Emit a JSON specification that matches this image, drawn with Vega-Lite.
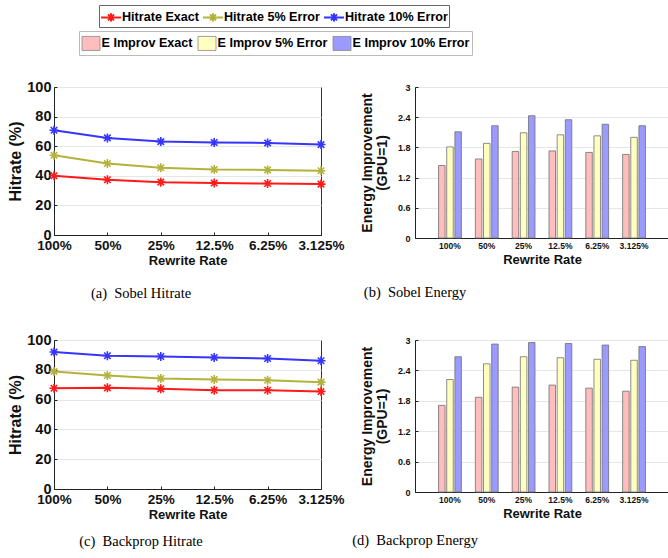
{
  "$schema": "https://vega.github.io/schema/vega-lite/v6.json",
  "background": "white",
  "padding": {"left": 7, "top": 4, "right": 0, "bottom": 2},
  "bounds": "flush",
  "columns": 2,
  "spacing": {"row": 102, "column": 94},
  "datasets": {
    "hit": [
      {"bench": "Sobel", "series": "Hitrate Exact", "rate": "100%", "hitrate": 40.0},
      {"bench": "Sobel", "series": "Hitrate Exact", "rate": "50%", "hitrate": 37.3},
      {"bench": "Sobel", "series": "Hitrate Exact", "rate": "25%", "hitrate": 35.7},
      {"bench": "Sobel", "series": "Hitrate Exact", "rate": "12.5%", "hitrate": 35.1},
      {"bench": "Sobel", "series": "Hitrate Exact", "rate": "6.25%", "hitrate": 34.8},
      {"bench": "Sobel", "series": "Hitrate Exact", "rate": "3.125%", "hitrate": 34.4},
      {"bench": "Sobel", "series": "Hitrate 5% Error", "rate": "100%", "hitrate": 53.9},
      {"bench": "Sobel", "series": "Hitrate 5% Error", "rate": "50%", "hitrate": 48.3},
      {"bench": "Sobel", "series": "Hitrate 5% Error", "rate": "25%", "hitrate": 45.4},
      {"bench": "Sobel", "series": "Hitrate 5% Error", "rate": "12.5%", "hitrate": 44.3},
      {"bench": "Sobel", "series": "Hitrate 5% Error", "rate": "6.25%", "hitrate": 44.0},
      {"bench": "Sobel", "series": "Hitrate 5% Error", "rate": "3.125%", "hitrate": 43.4},
      {"bench": "Sobel", "series": "Hitrate 10% Error", "rate": "100%", "hitrate": 70.8},
      {"bench": "Sobel", "series": "Hitrate 10% Error", "rate": "50%", "hitrate": 65.6},
      {"bench": "Sobel", "series": "Hitrate 10% Error", "rate": "25%", "hitrate": 63.1},
      {"bench": "Sobel", "series": "Hitrate 10% Error", "rate": "12.5%", "hitrate": 62.5},
      {"bench": "Sobel", "series": "Hitrate 10% Error", "rate": "6.25%", "hitrate": 62.2},
      {"bench": "Sobel", "series": "Hitrate 10% Error", "rate": "3.125%", "hitrate": 61.1},
      {"bench": "Backprop", "series": "Hitrate Exact", "rate": "100%", "hitrate": 67.6},
      {"bench": "Backprop", "series": "Hitrate Exact", "rate": "50%", "hitrate": 67.9},
      {"bench": "Backprop", "series": "Hitrate Exact", "rate": "25%", "hitrate": 67.2},
      {"bench": "Backprop", "series": "Hitrate Exact", "rate": "12.5%", "hitrate": 66.3},
      {"bench": "Backprop", "series": "Hitrate Exact", "rate": "6.25%", "hitrate": 66.3},
      {"bench": "Backprop", "series": "Hitrate Exact", "rate": "3.125%", "hitrate": 65.4},
      {"bench": "Backprop", "series": "Hitrate 5% Error", "rate": "100%", "hitrate": 78.9},
      {"bench": "Backprop", "series": "Hitrate 5% Error", "rate": "50%", "hitrate": 76.2},
      {"bench": "Backprop", "series": "Hitrate 5% Error", "rate": "25%", "hitrate": 74.2},
      {"bench": "Backprop", "series": "Hitrate 5% Error", "rate": "12.5%", "hitrate": 73.5},
      {"bench": "Backprop", "series": "Hitrate 5% Error", "rate": "6.25%", "hitrate": 73.0},
      {"bench": "Backprop", "series": "Hitrate 5% Error", "rate": "3.125%", "hitrate": 71.7},
      {"bench": "Backprop", "series": "Hitrate 10% Error", "rate": "100%", "hitrate": 91.9},
      {"bench": "Backprop", "series": "Hitrate 10% Error", "rate": "50%", "hitrate": 89.4},
      {"bench": "Backprop", "series": "Hitrate 10% Error", "rate": "25%", "hitrate": 88.9},
      {"bench": "Backprop", "series": "Hitrate 10% Error", "rate": "12.5%", "hitrate": 88.3},
      {"bench": "Backprop", "series": "Hitrate 10% Error", "rate": "6.25%", "hitrate": 87.6},
      {"bench": "Backprop", "series": "Hitrate 10% Error", "rate": "3.125%", "hitrate": 86.1}
    ],
    "energy": [
      {"bench": "Sobel", "method": "E Improv Exact", "rate": "100%", "improvement": 1.44},
      {"bench": "Sobel", "method": "E Improv Exact", "rate": "50%", "improvement": 1.57},
      {"bench": "Sobel", "method": "E Improv Exact", "rate": "25%", "improvement": 1.72},
      {"bench": "Sobel", "method": "E Improv Exact", "rate": "12.5%", "improvement": 1.73},
      {"bench": "Sobel", "method": "E Improv Exact", "rate": "6.25%", "improvement": 1.70},
      {"bench": "Sobel", "method": "E Improv Exact", "rate": "3.125%", "improvement": 1.66},
      {"bench": "Sobel", "method": "E Improv 5% Error", "rate": "100%", "improvement": 1.81},
      {"bench": "Sobel", "method": "E Improv 5% Error", "rate": "50%", "improvement": 1.88},
      {"bench": "Sobel", "method": "E Improv 5% Error", "rate": "25%", "improvement": 2.09},
      {"bench": "Sobel", "method": "E Improv 5% Error", "rate": "12.5%", "improvement": 2.05},
      {"bench": "Sobel", "method": "E Improv 5% Error", "rate": "6.25%", "improvement": 2.03},
      {"bench": "Sobel", "method": "E Improv 5% Error", "rate": "3.125%", "improvement": 2.00},
      {"bench": "Sobel", "method": "E Improv 10% Error", "rate": "100%", "improvement": 2.11},
      {"bench": "Sobel", "method": "E Improv 10% Error", "rate": "50%", "improvement": 2.23},
      {"bench": "Sobel", "method": "E Improv 10% Error", "rate": "25%", "improvement": 2.43},
      {"bench": "Sobel", "method": "E Improv 10% Error", "rate": "12.5%", "improvement": 2.35},
      {"bench": "Sobel", "method": "E Improv 10% Error", "rate": "6.25%", "improvement": 2.26},
      {"bench": "Sobel", "method": "E Improv 10% Error", "rate": "3.125%", "improvement": 2.23},
      {"bench": "Backprop", "method": "E Improv Exact", "rate": "100%", "improvement": 1.71},
      {"bench": "Backprop", "method": "E Improv Exact", "rate": "50%", "improvement": 1.87},
      {"bench": "Backprop", "method": "E Improv Exact", "rate": "25%", "improvement": 2.07},
      {"bench": "Backprop", "method": "E Improv Exact", "rate": "12.5%", "improvement": 2.11},
      {"bench": "Backprop", "method": "E Improv Exact", "rate": "6.25%", "improvement": 2.05},
      {"bench": "Backprop", "method": "E Improv Exact", "rate": "3.125%", "improvement": 1.99},
      {"bench": "Backprop", "method": "E Improv 5% Error", "rate": "100%", "improvement": 2.22},
      {"bench": "Backprop", "method": "E Improv 5% Error", "rate": "50%", "improvement": 2.53},
      {"bench": "Backprop", "method": "E Improv 5% Error", "rate": "25%", "improvement": 2.67},
      {"bench": "Backprop", "method": "E Improv 5% Error", "rate": "12.5%", "improvement": 2.65},
      {"bench": "Backprop", "method": "E Improv 5% Error", "rate": "6.25%", "improvement": 2.62},
      {"bench": "Backprop", "method": "E Improv 5% Error", "rate": "3.125%", "improvement": 2.60},
      {"bench": "Backprop", "method": "E Improv 10% Error", "rate": "100%", "improvement": 2.67},
      {"bench": "Backprop", "method": "E Improv 10% Error", "rate": "50%", "improvement": 2.92},
      {"bench": "Backprop", "method": "E Improv 10% Error", "rate": "25%", "improvement": 2.95},
      {"bench": "Backprop", "method": "E Improv 10% Error", "rate": "12.5%", "improvement": 2.93},
      {"bench": "Backprop", "method": "E Improv 10% Error", "rate": "6.25%", "improvement": 2.90},
      {"bench": "Backprop", "method": "E Improv 10% Error", "rate": "3.125%", "improvement": 2.87}
    ]
  },
  "config": {
    "font": "Liberation Sans",
    "view": {"stroke": "#333", "strokeWidth": 1},
    "axis": {
      "domainColor": "#222", "domainWidth": 1, "tickColor": "#222", "tickSize": -3,
      "labelColor": "#111", "titleColor": "#111",
      "labelFont": "Liberation Sans", "titleFont": "Liberation Sans",
      "labelFontWeight": "bold", "titleFontWeight": "bold",
      "gridColor": "#e6e6e6", "gridWidth": 1
    },
    "axisX": {"grid": false},
    "axisY": {"grid": true},
    "title": {"font": "Liberation Serif", "fontSize": 14.5, "fontWeight": "normal", "color": "#000", "orient": "bottom", "anchor": "middle"}
  },
  "concat": [
    {
      "width": 267, "height": 148,
      "data": {"name": "hit"},
      "transform": [{"filter": "datum.bench == 'Sobel'"}],
      "title": {"text": "(a)\u00a0 Sobel Hitrate", "dx": -46.5, "offset": 19},
      "encoding": {
        "x": {"field": "rate", "type": "ordinal",
          "scale": {"type": "point", "padding": 0, "domain": ["100%", "50%", "25%", "12.5%", "6.25%", "3.125%"]},
          "axis": {"title": "Rewrite Rate", "labelAngle": 0, "labelFontSize": 13.5, "labelPadding": 6, "titleFontSize": 13, "titlePadding": 3}},
        "y": {"field": "hitrate", "type": "quantitative", "scale": {"domain": [0, 100]},
          "axis": {"title": "Hitrate (%)", "values": [0, 20, 40, 60, 80, 100], "labelFontSize": 14.5, "labelPadding": 6, "titleFontSize": 16, "titlePadding": 3}},
        "stroke": {"field": "series", "type": "nominal",
          "scale": {"domain": ["Hitrate Exact", "Hitrate 5% Error", "Hitrate 10% Error"], "range": ["#ff1a1a", "#b3b33c", "#3535ff"]},
          "legend": {"title": null, "orient": "none", "legendX": 45, "legendY": -82, "direction": "horizontal",
            "symbolType": "M-1,0L1,0M0,-0.42L0,0.42M-0.3,-0.3L0.3,0.3M-0.3,0.3L0.3,-0.3",
            "symbolSize": 400, "symbolStrokeWidth": 2, "labelFont": "Liberation Sans", "labelFontWeight": "bold", "labelFontSize": 12.6, "labelColor": "#000",
            "labelOffset": 0, "columnPadding": 0, "padding": 1, "strokeColor": "#666", "fillColor": "white"}}
      },
      "layer": [
        {"mark": {"type": "line", "strokeWidth": 2}},
        {"mark": {"type": "point", "shape": "M-1,0L1,0M0,-1L0,1M-0.72,-0.72L0.72,0.72M-0.72,0.72L0.72,-0.72", "filled": false, "size": 81, "strokeWidth": 1.6, "opacity": 1}}
      ]
    },
    {
      "width": 254, "height": 151,
      "data": {"name": "energy"},
      "transform": [{"filter": "datum.bench == 'Sobel'"}],
      "title": {"text": "(b)\u00a0 Sobel Energy", "dx": -127, "offset": 19},
      "mark": {"type": "bar", "stroke": "#707070", "strokeWidth": 0.8},
      "encoding": {
        "x": {"field": "rate", "type": "nominal",
          "scale": {"domain": ["100%", "50%", "25%", "12.5%", "6.25%", "3.125%"], "paddingInner": 0.38, "paddingOuter": 0.64},
          "axis": {"title": "Rewrite Rate", "labelAngle": 0, "labelFontSize": 8.5, "labelPadding": 6, "titleFontSize": 13, "titlePadding": 4}},
        "xOffset": {"field": "method", "type": "nominal", "scale": {"domain": ["E Improv Exact", "E Improv 5% Error", "E Improv 10% Error"], "paddingInner": 0.2}},
        "y": {"field": "improvement", "type": "quantitative", "scale": {"domain": [0, 3]},
          "axis": {"title": ["Energy Improvement", "(GPU=1)"], "values": [0, 0.6, 1.2, 1.8, 2.4, 3], "format": "~g", "labelFontSize": 9, "labelPadding": 8, "titleFontSize": 14, "titleLineHeight": 15, "titlePadding": 8}},
        "fill": {"field": "method", "type": "nominal",
          "scale": {"domain": ["E Improv Exact", "E Improv 5% Error", "E Improv 10% Error"], "range": ["#ffbdbd", "#ffffc0", "#9a9aff"]},
          "legend": {"title": null, "orient": "none", "legendX": 25, "legendY": -56, "direction": "horizontal",
            "symbolType": "M-1,-0.78L1,-0.78L1,0.78L-1,0.78Z", "symbolSize": 324, "symbolStrokeColor": "#888", "symbolStrokeWidth": 0.8,
            "labelFont": "Liberation Sans", "labelFontWeight": "bold", "labelFontSize": 12.6, "labelColor": "#000",
            "labelOffset": 1, "columnPadding": 3, "padding": 2.5, "strokeColor": "#bbb", "fillColor": "white"}}
      }
    },
    {
      "width": 267, "height": 149,
      "data": {"name": "hit"},
      "transform": [{"filter": "datum.bench == 'Backprop'"}],
      "title": {"text": "(c)\u00a0 Backprop Hitrate", "dx": -46.5, "offset": 13},
      "encoding": {
        "x": {"field": "rate", "type": "ordinal",
          "scale": {"type": "point", "padding": 0, "domain": ["100%", "50%", "25%", "12.5%", "6.25%", "3.125%"]},
          "axis": {"title": "Rewrite Rate", "labelAngle": 0, "labelFontSize": 13.5, "labelPadding": 6, "titleFontSize": 13, "titlePadding": 3}},
        "y": {"field": "hitrate", "type": "quantitative", "scale": {"domain": [0, 100]},
          "axis": {"title": "Hitrate (%)", "values": [0, 20, 40, 60, 80, 100], "labelFontSize": 14.5, "labelPadding": 6, "titleFontSize": 16, "titlePadding": 3}},
        "stroke": {"field": "series", "type": "nominal",
          "scale": {"domain": ["Hitrate Exact", "Hitrate 5% Error", "Hitrate 10% Error"], "range": ["#ff1a1a", "#b3b33c", "#3535ff"]},
          "legend": {"title": null, "orient": "none", "legendX": 45, "legendY": -82, "direction": "horizontal",
            "symbolType": "M-1,0L1,0M0,-0.42L0,0.42M-0.3,-0.3L0.3,0.3M-0.3,0.3L0.3,-0.3",
            "symbolSize": 400, "symbolStrokeWidth": 2, "labelFont": "Liberation Sans", "labelFontWeight": "bold", "labelFontSize": 12.6, "labelColor": "#000",
            "labelOffset": 0, "columnPadding": 0, "padding": 1, "strokeColor": "#666", "fillColor": "white"}}
      },
      "layer": [
        {"mark": {"type": "line", "strokeWidth": 2}},
        {"mark": {"type": "point", "shape": "M-1,0L1,0M0,-1L0,1M-0.72,-0.72L0.72,0.72M-0.72,0.72L0.72,-0.72", "filled": false, "size": 81, "strokeWidth": 1.6, "opacity": 1}}
      ]
    },
    {
      "width": 254, "height": 152,
      "data": {"name": "energy"},
      "transform": [{"filter": "datum.bench == 'Backprop'"}],
      "title": {"text": "(d)\u00a0 Backprop Energy", "dx": -127, "offset": 13},
      "mark": {"type": "bar", "stroke": "#707070", "strokeWidth": 0.8},
      "encoding": {
        "x": {"field": "rate", "type": "nominal",
          "scale": {"domain": ["100%", "50%", "25%", "12.5%", "6.25%", "3.125%"], "paddingInner": 0.38, "paddingOuter": 0.64},
          "axis": {"title": "Rewrite Rate", "labelAngle": 0, "labelFontSize": 8.5, "labelPadding": 6, "titleFontSize": 13, "titlePadding": 4}},
        "xOffset": {"field": "method", "type": "nominal", "scale": {"domain": ["E Improv Exact", "E Improv 5% Error", "E Improv 10% Error"], "paddingInner": 0.2}},
        "y": {"field": "improvement", "type": "quantitative", "scale": {"domain": [0, 3]},
          "axis": {"title": ["Energy Improvement", "(GPU=1)"], "values": [0, 0.6, 1.2, 1.8, 2.4, 3], "format": "~g", "labelFontSize": 9, "labelPadding": 8, "titleFontSize": 14, "titleLineHeight": 15, "titlePadding": 8}},
        "fill": {"field": "method", "type": "nominal",
          "scale": {"domain": ["E Improv Exact", "E Improv 5% Error", "E Improv 10% Error"], "range": ["#ffbdbd", "#ffffc0", "#9a9aff"]},
          "legend": {"title": null, "orient": "none", "legendX": 25, "legendY": -56, "direction": "horizontal",
            "symbolType": "M-1,-0.78L1,-0.78L1,0.78L-1,0.78Z", "symbolSize": 324, "symbolStrokeColor": "#888", "symbolStrokeWidth": 0.8,
            "labelFont": "Liberation Sans", "labelFontWeight": "bold", "labelFontSize": 12.6, "labelColor": "#000",
            "labelOffset": 1, "columnPadding": 3, "padding": 2.5, "strokeColor": "#bbb", "fillColor": "white"}}
      }
    }
  ]
}
